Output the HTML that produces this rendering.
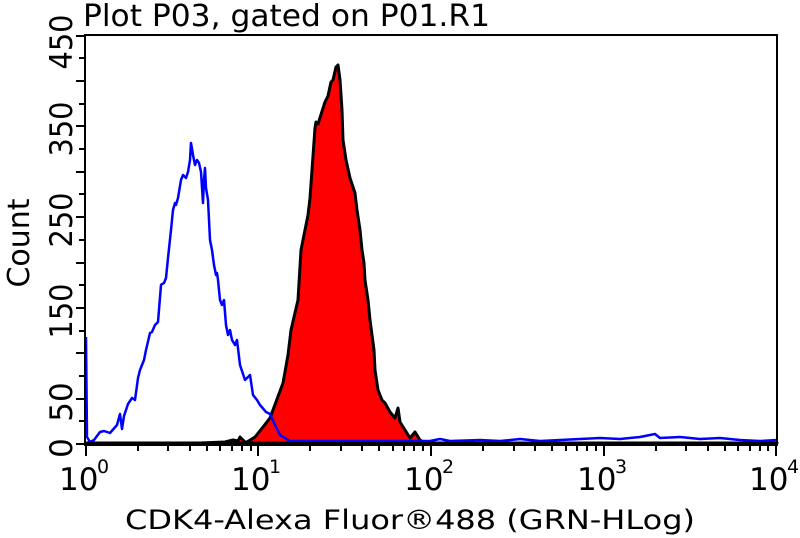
<!DOCTYPE html>
<html><head><meta charset="utf-8"><style>
html,body{margin:0;padding:0;background:#fff;}
svg{display:block;font-family:"DejaVu Sans","Liberation Sans",sans-serif;}
</style></head><body>
<svg width="800" height="538" viewBox="0 0 800 538" xmlns="http://www.w3.org/2000/svg">
<text x="83" y="26" font-size="30" fill="#000" textLength="407" lengthAdjust="spacingAndGlyphs">Plot P03, gated on P01.R1</text>
<text x="125" y="529" font-size="27" fill="#000" textLength="570" lengthAdjust="spacingAndGlyphs">CDK4-Alexa Fluor®488 (GRN-HLog)</text>
<text transform="translate(29,243) rotate(-90)" font-size="30" text-anchor="middle" fill="#000">Count</text>
<g font-size="31" fill="#000" text-anchor="middle">
<text transform="translate(72,448) rotate(-90)">0</text>
<text transform="translate(72,402) rotate(-90)">50</text>
<text transform="translate(72,311) rotate(-90)" textLength="55" lengthAdjust="spacingAndGlyphs">150</text>
<text transform="translate(72,220) rotate(-90)" textLength="55" lengthAdjust="spacingAndGlyphs">250</text>
<text transform="translate(72,129) rotate(-90)" textLength="55" lengthAdjust="spacingAndGlyphs">350</text>
<text transform="translate(72,42) rotate(-90)" textLength="55" lengthAdjust="spacingAndGlyphs">450</text>
</g>
<g font-size="31" fill="#000">
<text x="59" y="490">10</text><text x="97" y="473" font-size="19">0</text>
<text x="231" y="490">10</text><text x="269" y="473" font-size="19">1</text>
<text x="404" y="490">10</text><text x="442" y="473" font-size="19">2</text>
<text x="577" y="490">10</text><text x="615" y="473" font-size="19">3</text>
<text x="749" y="490">10</text><text x="787" y="473" font-size="19">4</text>
</g>
<polygon fill="#ff0000" stroke="#000" stroke-width="3" stroke-linejoin="round" points="86,443 200,443 225,442 233,440 238,441 240,437 245,442 247,442 255,437 263,427 270,418 283,383 288,355 291,330 298,300 301,250 308,215 310,198 315,128 316,122 318,124 325,102 328,96 331,82 333,80 336,67 338,65 340,80 342,110 343,140 346,160 350,178 355,193 357,210 360,230 362,250 364,263 365,280 368,300 370,320 374,350 375,370 378,390 382,400 385,403 390,412 395,418 398,408 400,422 405,430 410,438 415,432 420,440 425,443 777,443"/>
<polyline fill="none" stroke="#0000ff" stroke-width="2.5" stroke-linejoin="round" points="86,337 87,437 90,442 94,440 100,432 104,431 110,433 117,425 120,414 122,429 124,416 128,404 132,398 135,400 138,378 140,370 144,360 146,350 150,333 152,332 155,325 158,322 161,285 162,284 164,283 166,278 168,258 171,230 173,210 175,203 176,205 178,198 181,180 183,175 186,178 188,172 190,160 191,143 193,155 195,165 197,160 199,163 201,172 203,203 204,180 205,168 206,188 208,200 210,240 212,250 214,265 216,275 217,273 218,280 220,300 222,305 224,300 226,325 228,335 230,330 232,340 235,345 237,340 240,365 245,380 250,375 253,395 257,400 260,405 266,412 270,414 275,425 280,435 290,441 430,441 440,439 450,441 480,440 500,441 520,439 540,441 560,440 580,439 600,438 620,439 640,437 655,434 660,438 680,437 700,439 720,438 740,440 760,441 777,440"/>
<rect x="85" y="35" width="692" height="409" fill="none" stroke="#000" stroke-width="2"/>
<line x1="84" y1="444" x2="778" y2="444" stroke="#000" stroke-width="4"/>
<g stroke="#000" stroke-width="2">
<line x1="76" y1="444" x2="85" y2="444"/><line x1="79" y1="421" x2="85" y2="421"/>
<line x1="76" y1="399" x2="85" y2="399"/><line x1="79" y1="376" x2="85" y2="376"/>
<line x1="76" y1="353" x2="85" y2="353"/><line x1="79" y1="331" x2="85" y2="331"/>
<line x1="76" y1="308" x2="85" y2="308"/><line x1="79" y1="285" x2="85" y2="285"/>
<line x1="76" y1="263" x2="85" y2="263"/><line x1="79" y1="240" x2="85" y2="240"/>
<line x1="76" y1="217" x2="85" y2="217"/><line x1="79" y1="194" x2="85" y2="194"/>
<line x1="76" y1="172" x2="85" y2="172"/><line x1="79" y1="149" x2="85" y2="149"/>
<line x1="76" y1="126" x2="85" y2="126"/><line x1="79" y1="104" x2="85" y2="104"/>
<line x1="76" y1="81" x2="85" y2="81"/><line x1="79" y1="58" x2="85" y2="58"/>
<line x1="76" y1="36" x2="85" y2="36"/>
<line x1="86" y1="444" x2="86" y2="456"/><line x1="258" y1="444" x2="258" y2="456"/>
<line x1="431" y1="444" x2="431" y2="456"/><line x1="604" y1="444" x2="604" y2="456"/>
<line x1="776" y1="444" x2="776" y2="456"/>
<line x1="138" y1="444" x2="138" y2="451"/><line x1="168" y1="444" x2="168" y2="451"/>
<line x1="190" y1="444" x2="190" y2="451"/><line x1="207" y1="444" x2="207" y2="451"/>
<line x1="220" y1="444" x2="220" y2="451"/><line x1="232" y1="444" x2="232" y2="451"/>
<line x1="242" y1="444" x2="242" y2="451"/><line x1="251" y1="444" x2="251" y2="451"/>
<line x1="310" y1="444" x2="310" y2="451"/><line x1="341" y1="444" x2="341" y2="451"/>
<line x1="362" y1="444" x2="362" y2="451"/><line x1="379" y1="444" x2="379" y2="451"/>
<line x1="393" y1="444" x2="393" y2="451"/><line x1="404" y1="444" x2="404" y2="451"/>
<line x1="414" y1="444" x2="414" y2="451"/><line x1="423" y1="444" x2="423" y2="451"/>
<line x1="483" y1="444" x2="483" y2="451"/><line x1="514" y1="444" x2="514" y2="451"/>
<line x1="535" y1="444" x2="535" y2="451"/><line x1="552" y1="444" x2="552" y2="451"/>
<line x1="566" y1="444" x2="566" y2="451"/><line x1="577" y1="444" x2="577" y2="451"/>
<line x1="587" y1="444" x2="587" y2="451"/><line x1="596" y1="444" x2="596" y2="451"/>
<line x1="656" y1="444" x2="656" y2="451"/><line x1="686" y1="444" x2="686" y2="451"/>
<line x1="708" y1="444" x2="708" y2="451"/><line x1="725" y1="444" x2="725" y2="451"/>
<line x1="738" y1="444" x2="738" y2="451"/><line x1="750" y1="444" x2="750" y2="451"/>
<line x1="760" y1="444" x2="760" y2="451"/><line x1="768" y1="444" x2="768" y2="451"/>
</g>
</svg>
</body></html>
